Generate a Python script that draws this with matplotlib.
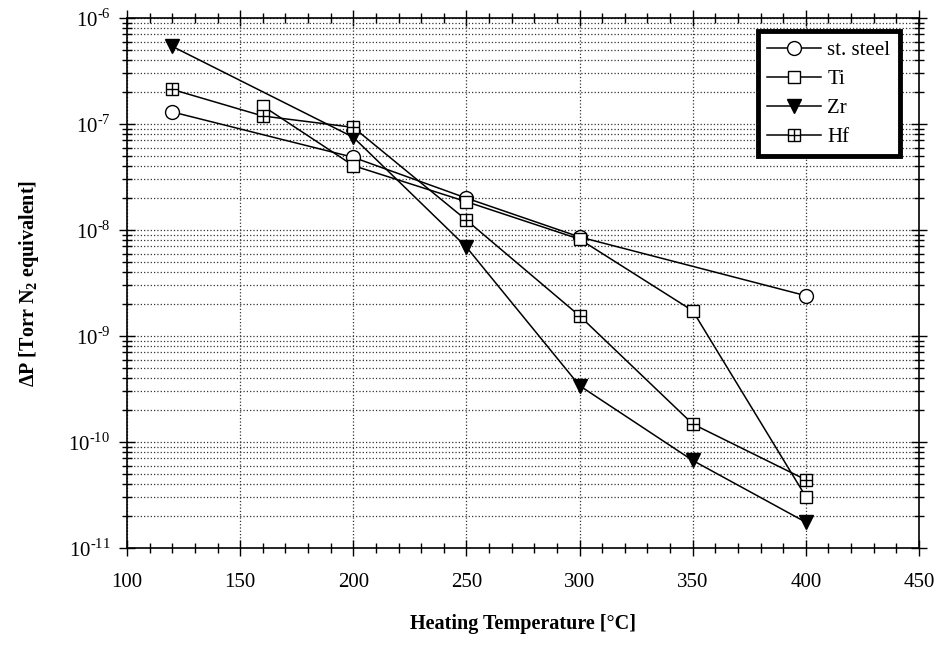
import matplotlib
matplotlib.use("Agg")
import matplotlib.pyplot as plt
from matplotlib.lines import Line2D
from matplotlib.ticker import FixedLocator, MultipleLocator, FuncFormatter, NullFormatter
import math

plt.rcParams['font.family'] = ['Liberation Serif', 'DejaVu Serif']
plt.rcParams['mathtext.fontset'] = 'custom'
plt.rcParams['mathtext.rm'] = 'Liberation Serif'
plt.rcParams['mathtext.bf'] = 'Liberation Serif:bold'

steel_T = [120, 200, 250, 300, 400]
steel_P = [1.3e-7, 4.85e-8, 2.0e-8, 8.6e-9, 2.4e-9]

ti_T = [160, 200, 250, 300, 350, 400]
ti_P = [1.48e-7, 4.05e-8, 1.85e-8, 8.2e-9, 1.73e-9, 3.05e-11]

zr_T = [120, 200, 250, 300, 350, 400]
zr_P = [5.4e-7, 7.5e-8, 6.9e-9, 3.4e-10, 6.7e-11, 1.75e-11]

hf_T = [120, 160, 200, 250, 300, 350, 400]
hf_P = [2.12e-7, 1.19e-7, 9.3e-8, 1.24e-8, 1.55e-9, 1.48e-10, 4.4e-11]

labels = ['st. steel', 'Ti', 'Zr', 'Hf']
decades = [-11, -10, -9, -8, -7, -6]

fig = plt.figure(figsize=(9.36, 6.6), dpi=100)
ax = fig.add_axes([0.1357, 0.1697, 0.9818 - 0.1357, 0.9727 - 0.1697])

lw = 1.1
ms = 10
ax.plot(steel_T, steel_P, color='black', lw=lw, marker='o', ms=ms, mfc='white', mec='black', mew=1.0, zorder=3)
ax.plot(ti_T, ti_P, color='black', lw=lw, marker='s', ms=ms - 1, mfc='white', mec='black', mew=1.0, zorder=3)
ax.plot(zr_T, zr_P, color='black', lw=lw, marker='v', ms=ms, mfc='black', mec='black', zorder=3)
ax.plot(hf_T, hf_P, color='black', lw=lw, marker='s', ms=ms - 1, mfc='white', mec='black', mew=1.0, zorder=3)
ax.plot(hf_T, hf_P, ls='none', marker='+', ms=ms - 1, mec='black', mew=1.0, zorder=4)

ax.set_yscale('log')
ax.set_xlim(100, 450)
ax.set_ylim(1e-11, 1e-6)
ax.xaxis.set_major_locator(MultipleLocator(50))
ax.xaxis.set_minor_locator(MultipleLocator(10))
ax.yaxis.set_major_locator(FixedLocator([10.0 ** d for d in decades]))
ax.yaxis.set_minor_locator(FixedLocator([k * 10.0 ** d for d in decades[:-1] for k in range(2, 10)]))


def yfmt(v, pos):
    e = int(round(math.log10(v)))
    return r'10$^{\mathrm{%s}}$' % (('\u2010' if e < 0 else '') + str(abs(e)))


ax.yaxis.set_major_formatter(FuncFormatter(yfmt))
ax.yaxis.set_minor_formatter(NullFormatter())

ax.tick_params(which='both', direction='inout', top=True, right=True, labelsize=15, width=1.0)
ax.tick_params(which='major', length=12)
ax.tick_params(which='minor', length=7)
ax.tick_params(axis='x', which='major', pad=12)
ax.tick_params(axis='y', which='major', pad=6)

ax.grid(True, which='major', axis='x', ls=':', color='#333333', lw=0.9)
ax.grid(True, which='both', axis='y', ls=':', color='#333333', lw=0.9)
for s in ax.spines.values():
    s.set_linewidth(1.2)

ax.set_xlabel('Heating Temperature [°C]', fontsize=14.5, fontweight='bold', labelpad=16)
ax.set_ylabel(r'ΔP [Torr N$_\mathbf{2}$ equivalent]', fontsize=14.5, fontweight='bold', labelpad=20)

h_steel = Line2D([], [], color='black', lw=lw, marker='o', ms=ms, mfc='white', mec='black')
h_ti = Line2D([], [], color='black', lw=lw, marker='s', ms=ms - 1, mfc='white', mec='black')
h_zr = Line2D([], [], color='black', lw=lw, marker='v', ms=ms, mfc='black', mec='black')
h_hf1 = Line2D([], [], color='black', lw=lw, marker='s', ms=ms - 1, mfc='white', mec='black')
h_hf2 = Line2D([], [], ls='none', marker='+', ms=ms - 1, mec='black')
leg = ax.legend([h_steel, h_ti, h_zr, (h_hf1, h_hf2)], labels, loc='upper right',
                bbox_to_anchor=(0.981, 0.983), fontsize=15, fancybox=False, framealpha=1,
                edgecolor='black', handlelength=2.6, borderpad=0.45, labelspacing=0.45,
                handletextpad=0.3, borderaxespad=0.2)
leg.get_frame().set_linewidth(3.5)

fig.savefig('out.png', dpi=100)
